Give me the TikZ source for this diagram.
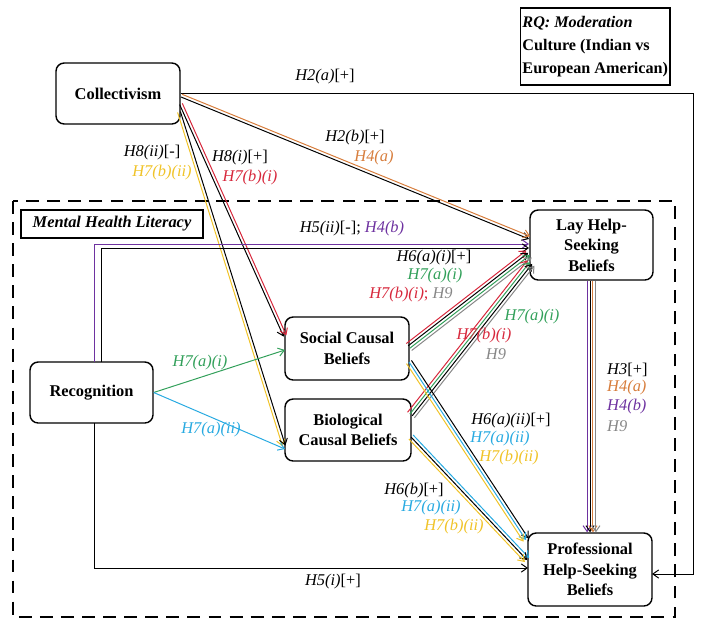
\documentclass[tikz,border=0pt]{standalone}
\usepackage{fontspec}
\setmainfont{Liberation Serif}
\usetikzlibrary{calc,arrows.meta}

\definecolor{hred}{RGB}{215,40,60}
\definecolor{hgreen}{RGB}{50,160,90}
\definecolor{hblue}{RGB}{40,170,225}
\definecolor{hyellow}{RGB}{240,195,40}
\definecolor{horange}{RGB}{215,125,60}
\definecolor{hpurple}{RGB}{110,50,160}
\definecolor{hgray}{RGB}{135,135,135}

\tikzset{
  box/.style={draw, rounded corners=7pt, line width=1.2pt, align=center, inner sep=2pt,
    font=\fontsize{14}{17.5}\selectfont\bfseries},
  lbl/.style={inner sep=0pt, font=\fontsize{14}{17}\selectfont},
  link/.style={line width=0.85pt, -{Straight Barb[length=5pt,width=7pt]}},
  frame/.style={line width=2.5pt, dash pattern=on 11pt off 7pt}
}

\newcommand{\linkbundle}[3]{%
  \foreach \c/\o in {#3}
    \draw[link,\c] ($(#1)!\o!90:(#2)$) -- ($(#2)!\o!-90:(#1)$);
}

\begin{document}
\begin{tikzpicture}[x=0.03cm,y=-0.03cm]
\useasboundingbox (0,0) rectangle (708,634);

\draw[frame] (13,201) rectangle (675,617);

\node[box, minimum width=3.72cm, minimum height=1.83cm] (coll) at (118,93.5) {Collectivism};
\node[draw, line width=1.2pt, minimum height=2.31cm, align=left, inner xsep=1.5pt, anchor=west,
  font=\fontsize{13.8}{19.5}\selectfont\bfseries] (rq) at (520,46.5)
  {\textit{RQ: Moderation}\\Culture (Indian vs\\European American)};
\node[draw, line width=1.2pt, minimum width=5.46cm, minimum height=0.84cm,
  font=\fontsize{14}{17}\selectfont\bfseries\itshape] (mhl) at (112,224) {Mental Health Literacy};
\node[box, minimum width=3.69cm, minimum height=2.1cm] (lay) at (591.5,245) {Lay Help-\\Seeking\\Beliefs};
\node[box, minimum width=3.72cm, minimum height=1.89cm] (soc) at (347,348.5) {Social Causal\\Beliefs};
\node[box, minimum width=3.78cm, minimum height=1.86cm] (bio) at (348,430) {Biological\\Causal Beliefs};
\node[box, minimum width=3.69cm, minimum height=1.83cm] (rec) at (91.5,392.5) {Recognition};
\node[box, minimum width=3.72cm, minimum height=2.19cm] (prof) at (590,569.5) {Professional\\Help-Seeking\\Beliefs};

\coordinate (collL) at (181,97);
\coordinate (collS) at (181,104);
\coordinate (collB) at (179,112);
\coordinate (layC) at (529,239);
\coordinate (layP) at (529,244);
\coordinate (layK) at (529,248);
\coordinate (layS) at (529,254);
\coordinate (layB) at (531,263);
\coordinate (layD) at (lay.south);
\coordinate (socC) at (285,336);
\coordinate (socG) at (285,350);
\coordinate (socR1) at (409,347);
\coordinate (socR2) at (409,362);
\coordinate (bioC) at (284,446);
\coordinate (bioL) at (285,449);
\coordinate (bioR1) at (411,415);
\coordinate (bioR2) at (411,437);
\coordinate (recP) at (94,362);
\coordinate (recK) at (101,362);
\coordinate (recD) at (94,423);
\coordinate (profS) at (526,540);
\coordinate (profB) at (527,560);
\coordinate (profL) at (528,568);
\coordinate (profR) at (652,574);
\coordinate (profU) at (lay.south |- prof.north);

\draw[link] (coll.east) -| (693,574) -- (profR);
\linkbundle{collL}{layC}{black/0pt, horange/2.5pt}
\linkbundle{collS}{socC}{black/-1.25pt, hred/1.25pt}
\linkbundle{collB}{bioC}{hyellow/-1.25pt, black/1.25pt}
\draw[link,hpurple] (recP) |- (layP);
\draw[link] (recK) |- (layK);
\draw[link] (recD) |- (profL);
\draw[link,hgreen] (rec.east) -- (socG);
\draw[link,hblue] (rec.east) -- (bioL);
\linkbundle{socR1}{layS}{hred/3.75pt, black/1.25pt, hgreen/-1.25pt, hgray/-3.75pt}
\linkbundle{bioR1}{layB}{hred/3.75pt, hgreen/1.25pt, black/-1.25pt, hgray/-3.75pt}
\linkbundle{socR2}{profS}{black/2.5pt, hblue/0pt, hyellow/-2.5pt}
\linkbundle{bioR2}{profB}{hblue/2.5pt, black/0pt, hyellow/-2.5pt}
\linkbundle{layD}{profU}{hpurple/-3.75pt, black/-1.25pt, horange/1.25pt, hgray/3.75pt}

\node[lbl] (h2a) at (325,77) {\textit{H2(a)}[+]};
\node[lbl] (h2b) at (355,138) {\textit{H2(b)}[+]};
\node[lbl, horange] (h4a1) at (374,158) {\textit{H4(a)}};
\node[lbl] (h8ii) at (152,153) {\textit{H8(ii)}[-]};
\node[lbl, hyellow] (h7bii1) at (162,173) {\textit{H7(b)(ii)}};
\node[lbl] (h8i) at (240,158) {\textit{H8(i)}[+]};
\node[lbl, hred] (h7bi1) at (250,178) {\textit{H7(b)(i)}};
\node[lbl] (h5ii) at (352,229) {\textit{H5(ii)}[-]; \textcolor{hpurple}{\textit{H4(b)}}};
\node[lbl] (h6ai) at (434,258) {\textit{H6(a)(i)}[+]};
\node[lbl, hgreen] (h7ai1) at (435,276) {\textit{H7(a)(i)}};
\node[lbl, hred] (h7bi2) at (411,295) {\textit{H7(b)(i)}; \textcolor{hgray}{\textit{H9}}};
\node[lbl, hgreen] (h7ai2) at (532,317) {\textit{H7(a)(i)}};
\node[lbl, hred] (h7bi3) at (484,336) {\textit{H7(b)(i)}};
\node[lbl, hgray] (h9a) at (496,354) {\textit{H9}};
\node[lbl, anchor=west] (h3) at (607,370) {\textit{H3}[+]};
\node[lbl, anchor=west, horange] (h4a2) at (607,388) {\textit{H4(a)}};
\node[lbl, anchor=west, hpurple] (h4b) at (607,407) {\textit{H4(b)}};
\node[lbl, anchor=west, hgray] (h9b) at (607,426) {\textit{H9}};
\node[lbl] (h6aii) at (511,421) {\textit{H6(a)(ii)}[+]};
\node[lbl, hblue] (h7aii1) at (500,439) {\textit{H7(a)(ii)}};
\node[lbl, hyellow] (h7bii2) at (509,458) {\textit{H7(b)(ii)}};
\node[lbl] (h6b) at (414,491) {\textit{H6(b)}[+]};
\node[lbl, hblue] (h7aii2) at (431,508) {\textit{H7(a)(ii)}};
\node[lbl, hyellow] (h7bii3) at (454,527) {\textit{H7(b)(ii)}};
\node[lbl] (h5i) at (333,582) {\textit{H5(i)}[+]};
\node[lbl, hgreen] (h7ai3) at (200,363) {\textit{H7(a)(i)}};
\node[lbl, hblue] (h7aii3) at (211,430) {\textit{H7(a)(ii)}};
\end{tikzpicture}
\end{document}
